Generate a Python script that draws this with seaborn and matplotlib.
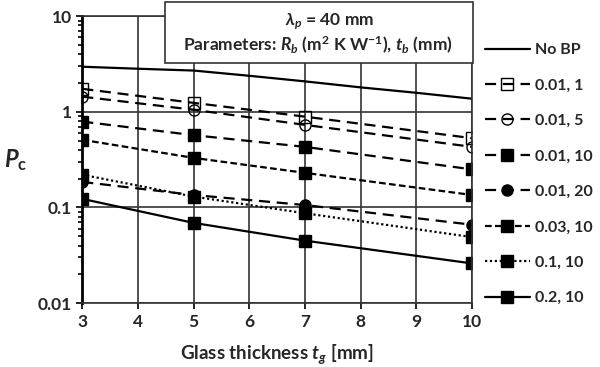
import numpy as np
import pandas as pd
import seaborn as sns
import matplotlib.pyplot as plt
from matplotlib.patches import Rectangle
from matplotlib.ticker import FixedLocator, FuncFormatter, LogLocator, NullFormatter

# data
tg_full = [3, 4, 5, 6, 7, 8, 9, 10]
no_bp = [2.96, 2.82, 2.70, 2.38, 2.08, 1.80, 1.58, 1.37]

tg = [3, 5, 7, 10]
pc_001_1 = [1.74, 1.24, 0.89, 0.53]
pc_001_5 = [1.44, 1.05, 0.73, 0.43]
pc_001_10 = [0.79, 0.57, 0.43, 0.25]
pc_001_20 = [0.185, 0.135, 0.106, 0.066]
pc_003_10 = [0.51, 0.33, 0.23, 0.135]
pc_01_10 = [0.22, 0.13, 0.087, 0.049]
pc_02_10 = [0.123, 0.069, 0.045, 0.026]

series_labels = ["0.01, 1", "0.01, 5", "0.01, 10", "0.01, 20", "0.03, 10", "0.1, 10", "0.2, 10"]
series_values = [pc_001_1, pc_001_5, pc_001_10, pc_001_20, pc_003_10, pc_01_10, pc_02_10]

sns.set_theme(style="white")
plt.rcParams["font.family"] = ["Lato", "DejaVu Sans"]
plt.rcParams["font.weight"] = "bold"
plt.rcParams["mathtext.fontset"] = "custom"
plt.rcParams["mathtext.rm"] = "Lato:bold"
plt.rcParams["mathtext.bf"] = "Lato:bold"
plt.rcParams["mathtext.it"] = "Lato:bold:italic"

FS = 12.5

fig = plt.figure(figsize=(6, 3.67), dpi=100)
ax = fig.add_axes([0.137, 0.174, 0.650, 0.782])

# styles: linestyle, marker, facecolor
styles = {
    "0.01, 1": ((0, (5, 3)), "s", "none"),
    "0.01, 5": ((0, (5, 3)), "o", "none"),
    "0.01, 10": ((0, (5, 3)), "s", "black"),
    "0.01, 20": ((0, (5, 3)), "o", "black"),
    "0.03, 10": ((0, (3, 1.5)), "s", "black"),
    "0.1, 10": ((0, (1, 1.2)), "s", "black"),
    "0.2, 10": ("-", "s", "black"),
}

sns.lineplot(x=tg_full, y=no_bp, ax=ax, color="black", linewidth=1.6, label="No BP")
for lab, vals in zip(series_labels, series_values):
    ls, mk, fc = styles[lab]
    sns.lineplot(x=tg, y=vals, ax=ax, color="black", linewidth=1.6, linestyle=ls,
                 marker=mk, markersize=8, markerfacecolor=fc, markeredgecolor="black",
                 markeredgewidth=1.0, label=lab)

ax.set_yscale("log")
ax.set_xlim(3, 10)
ax.set_ylim(0.01, 10)
ax.xaxis.set_major_locator(FixedLocator(range(3, 11)))
ax.yaxis.set_major_locator(FixedLocator([0.01, 0.1, 1, 10]))
ax.yaxis.set_major_formatter(FuncFormatter(lambda v, p: f"{v:g}"))
ax.yaxis.set_minor_locator(LogLocator(base=10, subs=np.arange(2, 10)))
ax.yaxis.set_minor_formatter(NullFormatter())
ax.grid(True, which="major", color="#333333", linewidth=1.2)
ax.tick_params(axis="both", which="major", labelsize=FS, length=4, width=1.2,
               color="black", left=True, bottom=True)
ax.tick_params(axis="y", which="minor", length=3, width=1.2, left=True, color="black")
for lab in ax.get_xticklabels() + ax.get_yticklabels():
    lab.set_fontweight("bold")
for s in ax.spines.values():
    s.set_color("#333333")
    s.set_linewidth(1.2)
ax.spines["left"].set_color("black")
ax.spines["left"].set_linewidth(2)

ax.set_xlabel(r"Glass thickness $t_g$ [mm]", fontsize=13.5, fontweight="bold", labelpad=9)
ax.set_ylabel(r"$P_{\mathrm{c}}$", fontsize=17, rotation=0, labelpad=16, va="center")

handles, labels = ax.get_legend_handles_labels()
ax.legend(handles, labels, loc="upper left", bbox_to_anchor=(485 / 600, 1 - 43 / 367),
          bbox_transform=fig.transFigure, frameon=False, borderpad=0, borderaxespad=0,
          handlelength=2.8, labelspacing=1.33, handletextpad=0.3,
          prop={"weight": "bold", "size": 11.5})

# annotation box above the plot
fig.patches.append(Rectangle((165 / 600, 1 - 63 / 367), 308 / 600, 61 / 367,
                             transform=fig.transFigure, facecolor="white",
                             edgecolor="#333333", linewidth=1.2, zorder=5))
fig.text(330 / 600, 1 - 22 / 367, r"$\lambda_p$ = 40 mm", ha="center", va="center",
         fontsize=FS, fontweight="bold", zorder=6)
fig.text(318 / 600, 1 - 45 / 367, r"Parameters: $R_b$ (m$^2$ K W$^{-1}$), $t_b$ (mm)",
         ha="center", va="center", fontsize=FS, fontweight="bold", zorder=6)

fig.savefig("out.png", dpi=100)
